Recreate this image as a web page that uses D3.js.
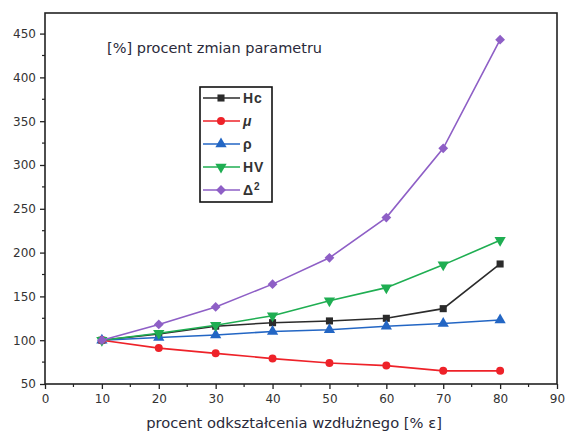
<!DOCTYPE html>
<html>
<head>
<meta charset="utf-8">
<script src="https://cdn.jsdelivr.net/npm/d3@7"></script>
<style>
  html, body { margin: 0; padding: 0; background: #fff; }
  svg { display: block; }
</style>
</head>
<body>
<svg id="chart" width="566" height="435"></svg>
<script>
// Deformation levels (% ε)
const strain = [10, 20, 30, 40, 50, 60, 70, 80];

// Relative change of each parameter [%]
const hc     = [100, 107, 116, 120, 122, 125, 136, 187];
const mu     = [100, 91, 85, 79, 74, 71, 65, 65];
const rho    = [100, 103, 106, 110, 112, 116, 119, 123];
const hv     = [100, 108, 117, 128, 145, 160, 186, 214];
const delta2 = [100, 118, 138, 164, 194, 240, 319, 443];

const seriesNames = ["Hc", "μ", "ρ", "HV", "Δ²"];
const seriesColors = ["#2b2b2b", "#ee2229", "#2366c4", "#1fae52", "#8e5fc6"];
const seriesSymbols = ["square", "circle", "triangleUp", "triangleDown", "diamond"];
const seriesValues = [hc, mu, rho, hv, delta2];

const xTicks = [0, 10, 20, 30, 40, 50, 60, 70, 80, 90];
const yTicks = [50, 100, 150, 200, 250, 300, 350, 400, 450];

const svg = d3.select("#chart");
const m = { left: 45, top: 13, right: 557, bottom: 384 };

const x = d3.scaleLinear().domain([0, 90]).range([m.left, m.right]);
const y = d3.scaleLinear().domain([50, 473.5]).range([m.bottom, m.top]);

const tickFont = "DejaVu Sans, Verdana, sans-serif";
const textColor = "#333";

// Frame
svg.append("rect")
  .attr("x", m.left).attr("y", m.top)
  .attr("width", m.right - m.left).attr("height", m.bottom - m.top)
  .attr("fill", "none").attr("stroke", "#222").attr("stroke-width", 1.6);

// X axis
const xAxis = svg.append("g").attr("transform", `translate(0,${m.bottom})`)
  .call(d3.axisBottom(x).tickValues(xTicks).tickSize(5).tickPadding(5).tickFormat(d3.format("d")));
xAxis.select(".domain").remove();
xAxis.selectAll(".tick line").attr("stroke", "#222").attr("stroke-width", 1.3);
xAxis.selectAll("text").attr("font-family", tickFont).attr("font-size", 12).attr("fill", textColor);
// X minor ticks
svg.append("g").selectAll("line")
  .data(d3.range(5, 90, 10)).join("line")
  .attr("x1", d => x(d)).attr("x2", d => x(d))
  .attr("y1", m.bottom).attr("y2", m.bottom + 3)
  .attr("stroke", "#222").attr("stroke-width", 1.2);

// Y axis
const yAxis = svg.append("g").attr("transform", `translate(${m.left},0)`)
  .call(d3.axisLeft(y).tickValues(yTicks).tickSize(5).tickPadding(4).tickFormat(d3.format("d")));
yAxis.select(".domain").remove();
yAxis.selectAll(".tick line").attr("stroke", "#222").attr("stroke-width", 1.3);
yAxis.selectAll("text").attr("font-family", tickFont).attr("font-size", 12).attr("fill", textColor);
// Y minor ticks
svg.append("g").selectAll("line")
  .data(d3.range(75, 475, 50)).join("line")
  .attr("x1", m.left - 3).attr("x2", m.left)
  .attr("y1", d => y(d)).attr("y2", d => y(d))
  .attr("stroke", "#222").attr("stroke-width", 1.2);

// Axis title
svg.append("text")
  .attr("x", 294).attr("y", 428)
  .attr("text-anchor", "middle")
  .attr("font-family", "DejaVu Sans, Verdana, sans-serif")
  .attr("font-size", 14.7).attr("fill", "#2a2a3a")
  .text("procent odkształcenia wzdłużnego [% ε]");

// Inner title
svg.append("text")
  .attr("x", 107).attr("y", 53)
  .attr("font-family", "DejaVu Sans, Verdana, sans-serif")
  .attr("font-size", 14.5).attr("fill", "#2a2a3a")
  .text("[%] procent zmian parametru");

// Marker shapes (diamond = square turned 45°)
const symbolTypes = {
  square: d3.symbolSquare,
  circle: d3.symbolCircle,
  triangleUp: d3.symbolTriangle,
  triangleDown: d3.symbolTriangle,
  diamond: d3.symbolSquare
};
const symbolSizes = { square: 50, circle: 50, triangleUp: 55, triangleDown: 55, diamond: 48 };
const symbolRotation = { triangleDown: 180, diamond: 45 };
function marker(sel, kind, color) {
  sel.append("path")
    .attr("d", d3.symbol().type(symbolTypes[kind]).size(symbolSizes[kind])())
    .attr("transform", symbolRotation[kind] ? `rotate(${symbolRotation[kind]})` : null)
    .attr("fill", color);
}

const line = d3.line().x((d, i) => x(strain[i])).y(d => y(d));

// Series: draw the flatter ones first so Δ² sits on top
const order = [0, 2, 1, 3, 4];
order.forEach(k => {
  const vals = seriesValues[k];
  const color = seriesColors[k];
  const g = svg.append("g");
  g.append("path").datum(vals)
    .attr("d", line)
    .attr("fill", "none").attr("stroke", color).attr("stroke-width", 1.6);
  vals.forEach((v, i) => {
    const mg = g.append("g").attr("transform", `translate(${x(strain[i])},${y(v)})`);
    marker(mg, seriesSymbols[k], color);
  });
});

// Legend
const legend = svg.append("g");
legend.append("rect")
  .attr("x", 200).attr("y", 87).attr("width", 72).attr("height", 115)
  .attr("fill", "#fff").attr("stroke", "#111").attr("stroke-width", 1.6);
seriesNames.forEach((name, k) => {
  const ly = 98 + k * 23;
  const color = seriesColors[k];
  legend.append("line")
    .attr("x1", 203).attr("x2", 240).attr("y1", ly).attr("y2", ly)
    .attr("stroke", color).attr("stroke-width", 1.6);
  const mg = legend.append("g").attr("transform", `translate(221,${ly})`);
  marker(mg, seriesSymbols[k], color);
  const t = legend.append("text")
    .attr("x", 243).attr("y", ly + 5)
    .attr("font-family", "Liberation Sans, Arial, sans-serif").attr("font-size", 14)
    .attr("letter-spacing", 1)
    .attr("fill", "#333").attr("font-weight", "bold");
  if (name === "Δ²") {
    t.text("Δ");
    t.append("tspan").attr("dy", -5).attr("font-size", 10).text("2");
  } else if (name === "μ") {
    t.attr("font-style", "italic").text(name);
  } else {
    t.text(name);
  }
});
</script>
</body>
</html>
